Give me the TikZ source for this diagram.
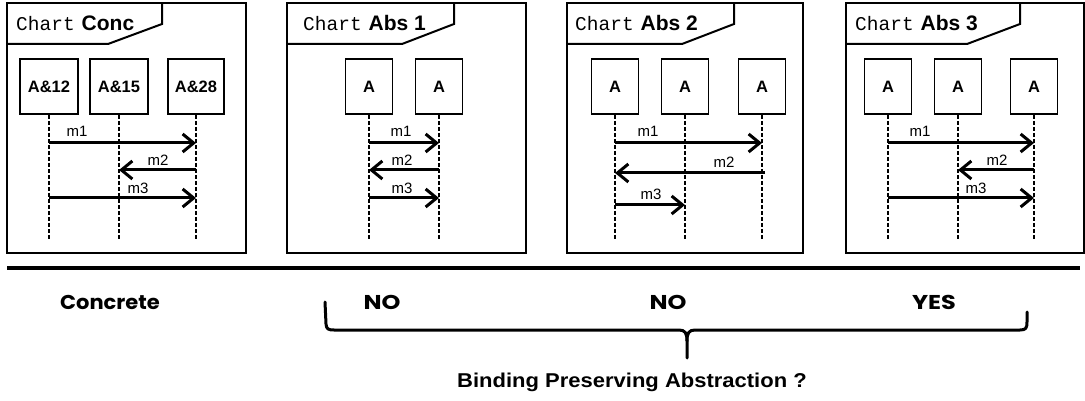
\documentclass[tikz,border=0pt]{standalone}
\usepackage{fontspec}
\usepackage{graphicx}
\setmainfont{Liberation Sans}
\newfontfamily\monofont{Liberation Mono}
\newfontfamily\handfont{Poppins}
\usetikzlibrary{arrows.meta}
\tikzset{
  frame/.style={line width=2pt},
  obj/.style={draw, line width=1.6pt, fill=white, minimum width=47pt, minimum height=55pt, inner sep=0pt,
              font=\fontsize{16.5}{19}\selectfont\bfseries},
  life/.style={line width=1.3pt, dash pattern=on 4pt off 2pt},
  msg/.style={line width=3pt, -{Straight Barb[length=11pt,width=18pt]}},
  lbl/.style={font=\fontsize{15}{17}\selectfont, inner sep=0pt},
  ttl/.style={anchor=base west, inner sep=0pt},
  hand/.style={font=\handfont\bfseries\fontsize{20}{24}\selectfont, inner sep=0pt},
}
\newcommand{\charttitle}[1]{{\monofont\fontsize{19.5}{22}\selectfont Chart}\hspace{7pt}{\fontsize{21}{24}\selectfont\bfseries #1}}
\begin{document}
\begin{tikzpicture}[x=1pt,y=-1pt]
\useasboundingbox (0,0) rectangle (1085,401);

% ---------- Chart Conc ----------
\draw[frame] (7,3) rectangle (246,253);
\draw[frame] (7,44) -- (108,44) -- (162,24) -- (162,3);
\node[ttl] (t1) at (16,31) {\charttitle{Conc}};
\node[obj, minimum width=58pt] (c1) at (49,86.5) {A\&12};
\node[obj, minimum width=58pt] (c2) at (119,86.5) {A\&15};
\node[obj, minimum width=56pt] (c3) at (196,86.5) {A\&28};
\coordinate (c1e) at (49,240); \coordinate (c2e) at (119,240); \coordinate (c3e) at (196,240);
\draw[life] (c1.south) -- (c1e);
\draw[life] (c2.south) -- (c2e);
\draw[life] (c3.south) -- (c3e);
\draw[msg] (c1 |- 0,143) -- (c3 |- 0,143);
\draw[msg] (c3 |- 0,170) -- (c2 |- 0,170);
\draw[msg] (c1 |- 0,198) -- (c3 |- 0,198);
\node[lbl] (c1m1) at (77,131) {m1};
\node[lbl] (c1m2) at (158,160) {m2};
\node[lbl] (c1m3) at (138,188) {m3};

% ---------- Chart Abs 1 ----------
\draw[frame] (287,3) rectangle (526,253);
\draw[frame] (287,44) -- (402,44) -- (454,24) -- (454,3);
\node[ttl] (t2) at (303,31) {\charttitle{Abs 1}};
\node[obj] (a1) at (369,86.5) {A};
\node[obj] (a2) at (439,86.5) {A};
\coordinate (a1e) at (369,240); \coordinate (a2e) at (439,240);
\draw[life] (a1.south) -- (a1e);
\draw[life] (a2.south) -- (a2e);
\draw[msg] (a1 |- 0,143) -- (a2 |- 0,143);
\draw[msg] (a2 |- 0,170) -- (a1 |- 0,170);
\draw[msg] (a1 |- 0,198) -- (a2 |- 0,198);
\node[lbl] (a1m1) at (401,131) {m1};
\node[lbl] (a1m2) at (402,160) {m2};
\node[lbl] (a1m3) at (402,188) {m3};

% ---------- Chart Abs 2 ----------
\draw[frame] (567,3) rectangle (803,253);
\draw[frame] (567,44) -- (682,44) -- (734,24) -- (734,3);
\node[ttl] (t3) at (575,31) {\charttitle{Abs 2}};
\node[obj] (b1) at (615,86.5) {A};
\node[obj] (b2) at (685,86.5) {A};
\node[obj] (b3) at (762,86.5) {A};
\coordinate (b1e) at (615,240); \coordinate (b2e) at (685,240); \coordinate (b3e) at (762,240);
\draw[life] (b1.south) -- (b1e);
\draw[life] (b2.south) -- (b2e);
\draw[life] (b3.south) -- (b3e);
\draw[msg] (b1 |- 0,143) -- (b3 |- 0,143);
\draw[msg] ([xshift=3pt]b3 |- 0,173) -- (b1 |- 0,173);
\draw[msg] (b1 |- 0,205) -- (b2 |- 0,205);
\node[lbl] (b1m1) at (648,131) {m1};
\node[lbl] (b1m2) at (724,162) {m2};
\node[lbl] (b1m3) at (651,194) {m3};

% ---------- Chart Abs 3 ----------
\draw[frame] (846,3) rectangle (1084,253);
\draw[frame] (846,44) -- (967,44) -- (1020,24) -- (1020,3);
\node[ttl] (t4) at (855,31) {\charttitle{Abs 3}};
\node[obj] (d1) at (888,86.5) {A};
\node[obj] (d2) at (958,86.5) {A};
\node[obj] (d3) at (1034,86.5) {A};
\coordinate (d1e) at (888,240); \coordinate (d2e) at (958,240); \coordinate (d3e) at (1034,240);
\draw[life] (d1.south) -- (d1e);
\draw[life] (d2.south) -- (d2e);
\draw[life] (d3.south) -- (d3e);
\draw[msg] (d1 |- 0,143) -- (d3 |- 0,143);
\draw[msg] (d3 |- 0,170) -- (d2 |- 0,170);
\draw[msg] (d1 |- 0,198) -- (d3 |- 0,198);
\node[lbl] (d1m1) at (920,131) {m1};
\node[lbl] (d1m2) at (997,160) {m2};
\node[lbl] (d1m3) at (976,188) {m3};

% ---------- bottom ----------
\coordinate (ruleL) at (7,268);
\coordinate (ruleR) at (1080,268);
\draw[line width=4pt] (ruleL) -- (ruleR);

\node[hand] (conc) at (110,302) {\scalebox{1.05}[1]{Concrete}};
\node[hand] (no1) at (382,302) {\scalebox{1.2}[1]{NO}};
\node[hand] (no2) at (668,302) {\scalebox{1.2}[1]{NO}};
\node[hand] (yes) at (934,302) {\scalebox{1.2}[1]{YES}};

\coordinate (brL) at (325,302);
\coordinate (brM) at (687,358);
\coordinate (brR) at (1027,312);
\draw[line width=3pt, line cap=round, line join=round]
  (brL) -- (326,324) .. controls (326.5,329) and (328,330) .. (334,330)
  -- (679,330) .. controls (685,330) and (687,333) .. (687,341) -- (brM);
\draw[line width=3pt, line cap=round, line join=round]
  (687,341) .. controls (687,333) and (689,330) .. (695,330)
  -- (1020,330) .. controls (1026,330) and (1027,328) .. (1027,322) -- (brR);

\node[font=\fontsize{20}{24}\selectfont\bfseries, inner sep=0pt] (q) at (632,382)
  {\scalebox{1.1}[1]{Binding Preserving Abstraction ?}};
\end{tikzpicture}
\end{document}
